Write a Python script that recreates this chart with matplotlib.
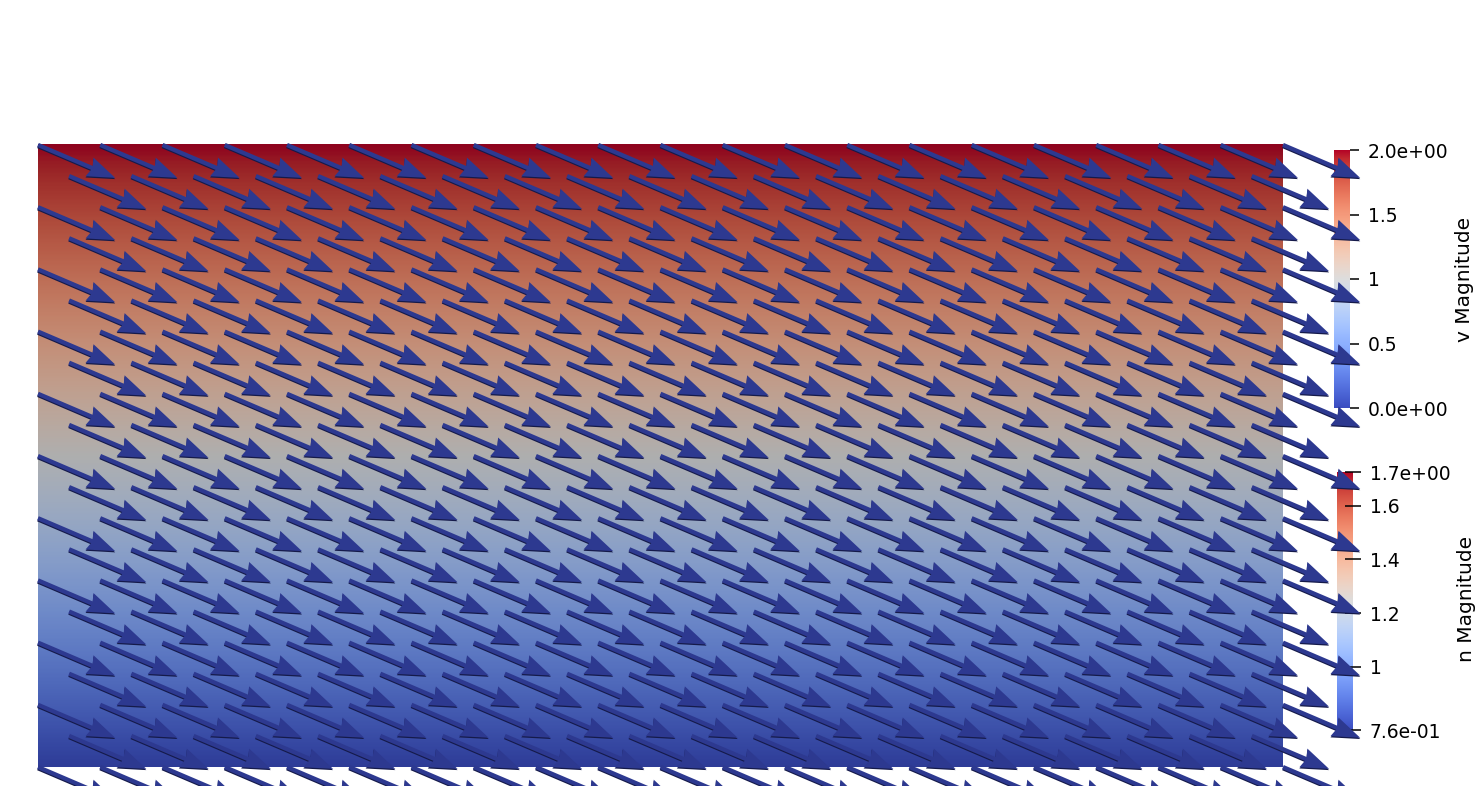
"""Glyph field over a v-magnitude background, ParaView-style, with two colour legends."""
import numpy as np
import matplotlib; matplotlib.use("Agg")
import matplotlib.pyplot as plt
from matplotlib.colors import ListedColormap, Normalize
from matplotlib.cm import ScalarMappable

plt.rcParams["font.family"] = ["DejaVu Sans"]

# domain and field
dom_x = (0.0, 2.0)
dom_y = (0.0, 1.0)
v_bottom, v_top = 0.0, 2.0          # v magnitude, linear in y
n_min, n_max = 0.764, 1.726         # n magnitude range

# glyph mesh: 0.05 spacing, checkerboard sampling
step = 0.05
glyph_u, glyph_v = 0.124, -0.053    # glyph vector (same everywhere)

v_ticks = [0.0, 0.5, 1.0, 1.5, 2.0]
v_labels = ["0.0e+00", "0.5", "1", "1.5", "2.0e+00"]
n_ticks = [n_min, 1.0, 1.2, 1.4, 1.6, n_max]
n_labels = ["7.6e-01", "1", "1.2", "1.4", "1.6", "1.7e+00"]

W, H = 1481, 786
fig = plt.figure(figsize=(W/100, H/100), dpi=100)
fig.patch.set_facecolor("white")

cw = plt.get_cmap("coolwarm")
lit = cw(np.linspace(0, 1, 256))
lit[:, :3] *= 0.79                  # shaded surface
surf_cmap = ListedColormap(lit)

# main view, pixel-matched
s = 622.5
ax = fig.add_axes([0, 0, 1, 1], zorder=5)
ax.set_xlim(-38/s, (W-38)/s)
ax.set_ylim(-(H-767)/s, 1+145/s)
ax.axis("off")
ax.patch.set_alpha(0)

col = np.linspace(v_bottom, v_top, 400)[:, None]
ax.imshow(col, cmap=surf_cmap, vmin=v_bottom, vmax=v_top, origin="lower",
          extent=[dom_x[0], dom_x[1], dom_y[0], dom_y[1]], aspect="auto",
          interpolation="bilinear", zorder=1)

nx = int(round((dom_x[1]-dom_x[0])/step)) + 1
ny = int(round((dom_y[1]-dom_y[0])/step)) + 1
gx, gy = np.meshgrid(np.arange(nx)*step, np.arange(ny)*step)
ii, jj = np.meshgrid(np.arange(nx), np.arange(ny))
keep = ((ii + (ny-1-jj)) % 2) == 0
X, Y = gx[keep], gy[keep]
U = np.full(X.shape, glyph_u)
V = np.full(X.shape, glyph_v)

qkw = dict(units="xy", angles="xy", scale_units="xy", scale=1, pivot="tail",
           width=0.0068, headwidth=4.8, headlength=6.6, headaxislength=6.0)
ax.quiver(X, Y-0.002, U, V, color="#151a4a", zorder=3, **qkw)
ax.quiver(X, Y, U, V, color="#2d3990", zorder=4, **qkw)

# colour legends
def legend(left, top, vmin, vmax, ticks, labels, direction, tlen):
    cax = fig.add_axes([left/W, 1-(top+258)/H, 16/W, 258/H], zorder=1)
    cb = fig.colorbar(ScalarMappable(Normalize(vmin, vmax), cw), cax=cax)
    cb.outline.set_visible(False)
    cb.set_ticks(ticks, labels=labels)
    cax.tick_params(axis="y", direction=direction, length=tlen, width=1.1,
                    color="black", labelsize=13.5, pad=6.5)
    cax.minorticks_off()
    return cb

legend(1334, 150, v_bottom, v_top, v_ticks, v_labels, "out", 6.5)
legend(1337, 472, n_min, n_max, n_ticks, n_labels, "inout", 11)
fig.text(1465/W, 1-279/H, "v Magnitude", rotation=90, ha="center", va="center", fontsize=14.5)
fig.text(1467/W, 1-599/H, "n Magnitude", rotation=90, ha="center", va="center", fontsize=14.5)

plt.savefig("out.png", dpi=100, facecolor="white")
